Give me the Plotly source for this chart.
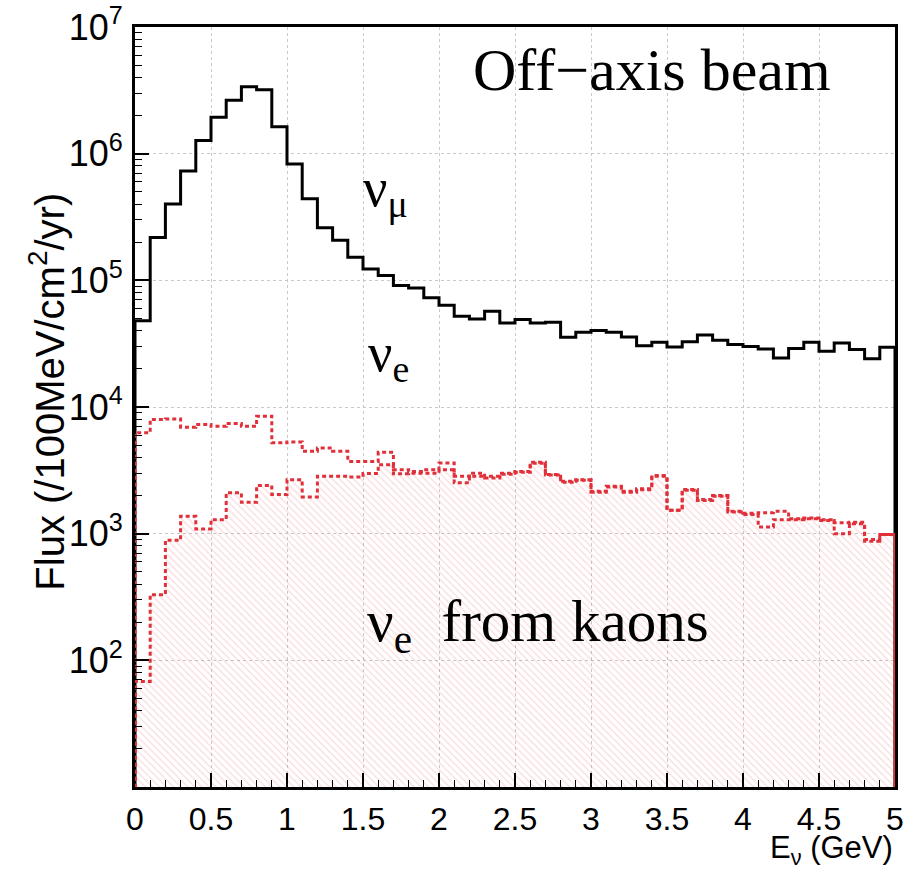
import numpy as np
import plotly.graph_objects as go

# 0.1 GeV energy bins from 0 to 5 GeV
bin_edges = np.round(np.arange(0.0, 5.0001, 0.1), 2)

# nu_mu flux per bin (/100MeV/cm^2/yr)
numu_flux = [
    4.8e4, 2.18e5, 4.0e5, 7.3e5, 1.27e6, 1.94e6, 2.64e6, 3.38e6, 3.2e6, 1.63e6,
    8.3e5, 4.4e5, 2.6e5, 2.07e5, 1.52e5, 1.23e5, 1.09e5, 9.1e4, 8.7e4, 7.3e4,
    6.35e4, 5.2e4, 4.96e4, 5.69e4, 4.6e4, 4.9e4, 4.6e4, 4.66e4, 3.55e4, 3.89e4,
    4.01e4, 3.89e4, 3.57e4, 3.05e4, 3.25e4, 2.98e4, 3.27e4, 3.71e4, 3.37e4, 3.11e4,
    3.01e4, 2.87e4, 2.44e4, 2.89e4, 3.24e4, 2.75e4, 3.2e4, 2.84e4, 2.4e4, 2.96e4,
]

# total nu_e flux per bin
nue_flux = [
    6.25e3, 7.96e3, 8.05e3, 6.92e3, 7.27e3, 7.04e3, 7.4e3, 7.04e3, 8.45e3, 5.21e3,
    5.3e3, 4.47e3, 4.75e3, 4.47e3, 3.72e3, 3.72e3, 4.39e3, 3.2e3, 3.1e3, 3.2e3,
    3.62e3, 2.84e3, 3.0e3, 2.84e3, 3.0e3, 3.1e3, 3.66e3, 2.93e3, 2.59e3, 2.67e3,
    2.16e3, 2.37e3, 2.16e3, 2.26e3, 2.88e3, 1.53e3, 2.23e3, 1.86e3, 2.0e3, 1.5e3,
    1.45e3, 1.46e3, 1.5e3, 1.31e3, 1.33e3, 1.29e3, 1.22e3, 1.23e3, 9.0e2, 9.85e2,
]

# nu_e flux from kaon decays per bin
nue_kaon_flux = [
    68, 330, 887, 1.37e3, 1.09e3, 1.29e3, 2.1e3, 1.77e3, 2.4e3, 2.04e3,
    2.67e3, 1.95e3, 2.84e3, 2.84e3, 2.8e3, 2.98e3, 3.5e3, 2.97e3, 3.0e3, 3.0e3,
    3.2e3, 2.52e3, 2.84e3, 2.75e3, 2.95e3, 3.05e3, 3.6e3, 2.9e3, 2.55e3, 2.64e3,
    2.12e3, 2.34e3, 2.12e3, 2.22e3, 2.84e3, 1.53e3, 2.2e3, 1.83e3, 1.97e3, 1.48e3,
    1.42e3, 1.13e3, 1.29e3, 1.29e3, 1.31e3, 1.27e3, 1.0e3, 1.2e3, 8.7e2, 9.85e2,
]

x_tick_vals = [0, 0.5, 1, 1.5, 2, 2.5, 3, 3.5, 4, 4.5, 5]
x_tick_text = ["0", "0.5", "1", "1.5", "2", "2.5", "3", "3.5", "4", "4.5", "5"]
y_tick_vals = [1e2, 1e3, 1e4, 1e5, 1e6, 1e7]
y_tick_text = ["10<sup>2</sup>", "10<sup>3</sup>", "10<sup>4</sup>",
               "10<sup>5</sup>", "10<sup>6</sup>", "10<sup>7</sup>"]

RED = "#e0303a"
SANS = "Liberation Sans, Arial, sans-serif"
SERIF = "Liberation Serif, Times New Roman, serif"


def outline(values, floor=1.0):
    """Histogram outline (hv steps) dropping to below the axis at both ends."""
    xs = [float(bin_edges[0])] + [float(e) for e in bin_edges[:-1]] + [float(bin_edges[-1])] * 2
    ys = [floor] + list(values) + [values[-1], floor]
    return xs, ys


fig = go.Figure()

# hatched area under the kaon contribution
kx, ky = outline(nue_kaon_flux)
fig.add_trace(go.Scatter(
    x=kx, y=ky, mode="lines", line=dict(width=0, shape="hv"),
    fill="toself", fillcolor="rgba(0,0,0,0)",
    fillpattern=dict(shape="\\", fgcolor="rgba(238,110,120,0.55)",
                     bgcolor="rgba(0,0,0,0)", size=5, solidity=0.22),
    hoverinfo="skip", showlegend=False,
))

mx, my = outline(numu_flux)
fig.add_trace(go.Scatter(
    x=mx, y=my, mode="lines", line=dict(color="black", width=3, shape="hv"),
    showlegend=False,
))

ex, ey = outline(nue_flux)
fig.add_trace(go.Scatter(
    x=ex, y=ey, mode="lines",
    line=dict(color=RED, width=3, shape="hv", dash="4px,3px"),
    showlegend=False,
))

fig.add_trace(go.Scatter(
    x=kx, y=ky, mode="lines",
    line=dict(color=RED, width=3, shape="hv", dash="4px,3px"),
    showlegend=False,
))

minor_y = [k * 10 ** n for n in range(1, 7) for k in range(2, 10)]

fig.update_xaxes(
    range=[0, 5], tickvals=x_tick_vals, ticktext=x_tick_text,
    ticks="inside", ticklen=14, tickwidth=1.5, tickcolor="black",
    minor=dict(ticks="inside", ticklen=7, tickwidth=1, tickcolor="black",
               dtick=0.1, showgrid=False),
    showgrid=True, gridcolor="#c8c8c8", griddash="dot", gridwidth=1,
    showline=True, linecolor="black", linewidth=3, mirror=True,
    zeroline=False, tickfont=dict(family=SANS, size=32, color="black"),
    ticklabelstandoff=2, automargin=False,
)
fig.update_yaxes(
    type="log", range=[1, 7], tickvals=y_tick_vals, ticktext=y_tick_text,
    ticks="inside", ticklen=14, tickwidth=1.5, tickcolor="black",
    minor=dict(ticks="inside", ticklen=7, tickwidth=1, tickcolor="black",
               tickvals=minor_y, showgrid=False),
    showgrid=True, gridcolor="#c8c8c8", griddash="dot", gridwidth=1,
    showline=True, linecolor="black", linewidth=3, mirror=True,
    zeroline=False, tickfont=dict(family=SANS, size=36, color="black"),
    ticklabelstandoff=2, automargin=False,
)

annotations = [
    dict(text="Off\u2212axis beam", x=3.4, y=6.66, xref="x", yref="y",
         showarrow=False, font=dict(family=SERIF, size=60, color="black")),
    dict(text="\u03bd<sub>\u03bc</sub>", x=1.65, y=5.7, xref="x", yref="y",
         showarrow=False, font=dict(family=SERIF, size=54, color="black")),
    dict(text="\u03bd<sub>e</sub>", x=1.67, y=4.4, xref="x", yref="y",
         showarrow=False, font=dict(family=SERIF, size=54, color="black")),
    dict(text="\u03bd<sub>e</sub>  from kaons", x=1.51, y=2.28, xref="x", yref="y",
         xanchor="left", showarrow=False,
         font=dict(family=SERIF, size=59, color="black")),
    dict(text="Flux (/100MeV/cm<sup>2</sup>/yr)", x=-0.116, y=0.52,
         xref="paper", yref="paper", textangle=-90, showarrow=False,
         xanchor="center", yanchor="middle",
         font=dict(family=SANS, size=40, color="black")),
    dict(text="E<sub>\u03bd</sub> (GeV)", x=1.0, y=-0.112, xref="paper", yref="paper",
         xanchor="right", yanchor="bottom", showarrow=False,
         font=dict(family=SANS, size=31, color="black")),
]

fig.update_layout(
    width=919, height=875,
    margin=dict(l=135, r=24, t=27, b=88),
    paper_bgcolor="white", plot_bgcolor="white",
    showlegend=False, annotations=annotations,
)

fig.write_html("out.html")
